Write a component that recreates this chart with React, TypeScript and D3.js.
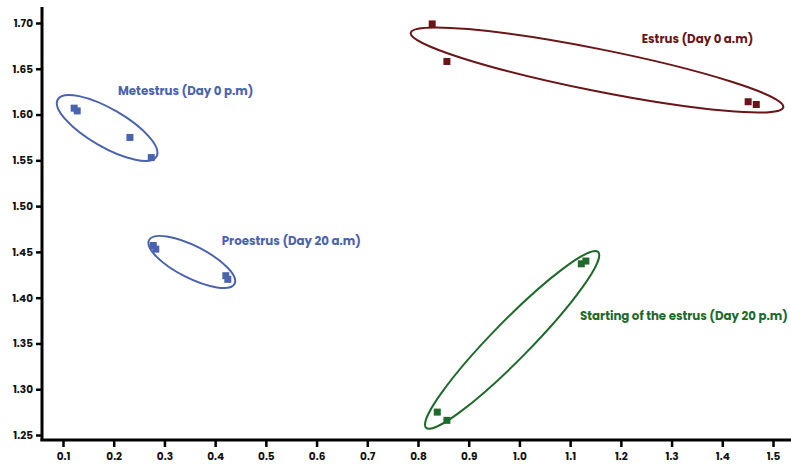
import React, { useEffect, useRef } from 'react';
import * as d3 from 'd3';

const WIDTH = 791;
const HEIGHT = 466;

// cluster data (x, y)
const metestrusX = [0.122, 0.128, 0.232, 0.274];
const metestrusY = [1.607, 1.604, 1.575, 1.553];
const proestrusX = [0.278, 0.283, 0.421, 0.425];
const proestrusY = [1.457, 1.453, 1.424, 1.42];
const estrusX = [0.828, 0.857, 1.451, 1.467];
const estrusY = [1.699, 1.658, 1.614, 1.611];
const startEstrusX = [0.838, 0.857, 1.122, 1.131];
const startEstrusY = [1.275, 1.266, 1.437, 1.44];

const xTicks = [0.1, 0.2, 0.3, 0.4, 0.5, 0.6, 0.7, 0.8, 0.9, 1.0, 1.1, 1.2, 1.3, 1.4, 1.5];
const yTicks = [1.25, 1.3, 1.35, 1.4, 1.45, 1.5, 1.55, 1.6, 1.65, 1.7];

const groups = [
  { name: 'Metestrus (Day 0 p.m)', xs: metestrusX, ys: metestrusY, color: '#4a63ae',
    center: [0.187, 1.5854], rx: 57, ry: 19, angle: 30, label: [0.2085, 1.6255] },
  { name: 'Proestrus (Day 20 a.m)', xs: proestrusX, ys: proestrusY, color: '#4a63ae',
    center: [0.354, 1.439], rx: 48, ry: 16, angle: 27, label: [0.413, 1.4615] },
  { name: 'Estrus (Day 0 a.m)', xs: estrusX, ys: estrusY, color: '#6a1518',
    center: [1.153, 1.6487], rx: 190, ry: 21, angle: 11.3, label: [1.241, 1.6825] },
  { name: 'Starting of the estrus (Day 20 p.m)', xs: startEstrusX, ys: startEstrusY, color: '#1e6a2a',
    center: [0.9856, 1.3539], rx: 123, ry: 19, angle: -45.6, label: [1.1195, 1.3805] },
];

export default function App() {
  const ref = useRef<SVGSVGElement>(null);

  useEffect(() => {
    document.body.style.margin = '0';
    const svg = d3.select(ref.current);
    svg.selectAll('*').remove();

    const x = d3.scaleLinear().domain([0.1, 1.5]).range([63, 773]);
    const y = d3.scaleLinear().domain([1.25, 1.7]).range([435, 23]);
    const font = 'Poppins, Lato, "Open Sans", sans-serif';

    // axis lines
    svg.append('line').attr('x1', 42).attr('x2', 42).attr('y1', 7).attr('y2', 441)
      .attr('stroke', '#000').attr('stroke-width', 3);
    svg.append('line').attr('x1', 40.5).attr('x2', WIDTH).attr('y1', 440).attr('y2', 440)
      .attr('stroke', '#000').attr('stroke-width', 3);

    const xAxis = svg.append('g').attr('transform', 'translate(0,440)')
      .call(d3.axisBottom(x).tickValues(xTicks).tickFormat(d3.format('.1f')).tickSize(7).tickPadding(6));
    xAxis.select('.domain').remove();
    xAxis.selectAll('line').attr('stroke', '#000').attr('stroke-width', 2.5);
    xAxis.selectAll('text').attr('font-family', font).attr('font-weight', 700)
      .attr('font-size', 10.5).attr('fill', '#111');

    const yAxis = svg.append('g').attr('transform', 'translate(42,0)')
      .call(d3.axisLeft(y).tickValues(yTicks).tickFormat(d3.format('.2f')).tickSize(6).tickPadding(3));
    yAxis.select('.domain').remove();
    yAxis.selectAll('line').attr('stroke', '#000').attr('stroke-width', 2.5);
    yAxis.selectAll('text').attr('font-family', font).attr('font-weight', 700)
      .attr('font-size', 10.5).attr('fill', '#111');

    groups.forEach((g) => {
      const cx = x(g.center[0]);
      const cy = y(g.center[1]);
      svg.append('ellipse')
        .attr('cx', cx).attr('cy', cy).attr('rx', g.rx).attr('ry', g.ry)
        .attr('transform', `rotate(${g.angle},${cx},${cy})`)
        .attr('fill', 'none').attr('stroke', g.color).attr('stroke-width', 2);

      const pts = g.xs.map((v, i) => [v, g.ys[i]]);
      svg.append('g').selectAll('rect').data(pts).enter().append('rect')
        .attr('x', (d) => x(d[0]) - 3.5)
        .attr('y', (d) => y(d[1]) - 3.5)
        .attr('width', 7).attr('height', 7)
        .attr('fill', g.color);

      svg.append('text')
        .attr('x', x(g.label[0])).attr('y', y(g.label[1]))
        .attr('dy', '0.35em')
        .attr('font-family', font).attr('font-weight', 700).attr('font-size', 11.8)
        .attr('fill', g.color)
        .text(g.name);
    });
  }, []);

  return (
    <svg ref={ref} width={WIDTH} height={HEIGHT} style={{ display: 'block', background: '#fff' }} />
  );
}
